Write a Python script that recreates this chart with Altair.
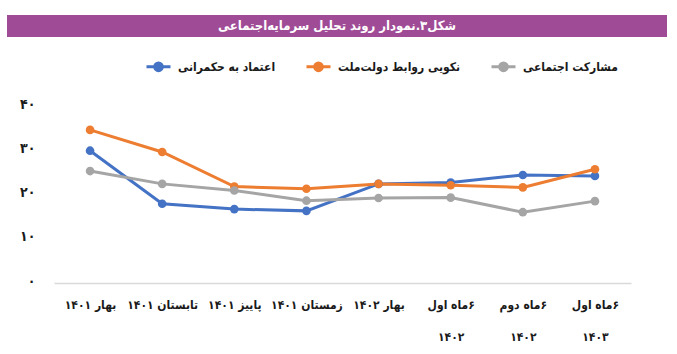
import altair as alt
import pandas as pd

# ---- data ----
categories = [
    "بهار ۱۴۰۱",
    "تابستان ۱۴۰۱",
    "پاییز ۱۴۰۱",
    "زمستان ۱۴۰۱",
    "بهار ۱۴۰۲",
    "۶ماه اول|۱۴۰۲",
    "۶ماه دوم|۱۴۰۲",
    "۶ماه اول|۱۴۰۳",
]
series_names = ["اعتماد به حکمرانی", "نکویی روابط دولت‌ملت", "مشارکت اجتماعی"]
trust = [29.9, 17.9, 16.7, 16.3, 22.4, 22.7, 24.4, 24.2]
relations = [34.6, 29.6, 21.8, 21.3, 22.4, 22.1, 21.6, 25.7]
participation = [25.3, 22.4, 20.9, 18.6, 19.2, 19.3, 16.0, 18.5]
colors = ["#4472C4", "#ED7D31", "#A5A5A5"]
y_ticks = [0, 10, 20, 30, 40]
y_tick_labels = ["۰", "۱۰", "۲۰", "۳۰", "۴۰"]
title_text = "شکل۳.نمودار روند تحلیل سرمایه‌اجتماعی"

rows = []
for name, vals in zip(series_names, [trust, relations, participation]):
    for c, v in zip(categories, vals):
        rows.append({"period": c, "series": name, "value": v})
df = pd.DataFrame(rows)

FONT = "DejaVu Sans Condensed"
LEFT, TOP = 54, 106
W, H = 577, 177
RIGHT = 677 - LEFT - W
BOTTOM = 354 - TOP - H

RLM = "\u200f"
ylab_expr = "[" + ",".join("'" + s + "'" for s in y_tick_labels) + "][datum.value / 10]"

legend_symbol = "M-1,0H1M-0.32,0A0.32,0.32,0,1,1,0.32,0A0.32,0.32,0,1,1,-0.32,0Z"

x_enc = alt.X(
    "period:N",
    sort=categories,
    title=None,
    axis=alt.Axis(
        labelAngle=0,
        labelExpr="split('" + RLM + "' + datum.label, '|')",
        labelFont=FONT,
        labelFontSize=12,
        labelFontWeight="bold",
        labelColor="#1a1a1a",
        labelPadding=16,
        labelLineHeight=32,
        domainColor="#D9D9D9",
        domainWidth=1.5,
        ticks=False,
        grid=False,
    ),
)
y_enc = alt.Y(
    "value:Q",
    title=None,
    scale=alt.Scale(domain=[0, 40], nice=False),
    axis=alt.Axis(
        values=y_ticks,
        labelExpr=ylab_expr,
        labelFont=FONT,
        labelFontSize=14,
        labelFontWeight="bold",
        labelColor="#1a1a1a",
        labelPadding=19,
        labelOffset=-2,
        domain=False,
        ticks=False,
        grid=False,
    ),
)
color_enc = alt.Color(
    "series:N",
    scale=alt.Scale(domain=series_names, range=colors),
    legend=alt.Legend(
        title=None,
        orient="none",
        direction="horizontal",
        legendX=145 - LEFT,
        legendY=53 - TOP,
        labelFont=FONT,
        labelFontSize=12,
        labelFontWeight="bold",
        labelColor="#1a1a1a",
        symbolType=legend_symbol,
        symbolSize=576,
        symbolStrokeWidth=3,
        columnPadding=24,
        labelOffset=6,
    ),
)

base = alt.Chart(df)
lines = base.mark_line(strokeWidth=3).encode(x=x_enc, y=y_enc, color=color_enc)
points = base.mark_point(filled=True, size=75, opacity=1).encode(
    x=x_enc, y=y_enc, color=color_enc
)

title_df = pd.DataFrame({"t": [title_text]})
banner = alt.Chart(title_df).mark_rect(color="#A04B96").encode(
    x=alt.value(7 - LEFT),
    x2=alt.value(667 - LEFT),
    y=alt.value(15 - TOP),
    y2=alt.value(37 - TOP),
)
banner_text = alt.Chart(title_df).mark_text(
    color="white", font=FONT, fontSize=13, fontWeight="bold", align="center", baseline="middle"
).encode(
    text="t:N",
    x=alt.value(337 - LEFT),
    y=alt.value(26 - TOP),
)

chart = (
    alt.layer(banner, banner_text, lines, points)
    .properties(
        width=W,
        height=H,
        autosize=alt.AutoSizeParams(type="none"),
        padding={"left": LEFT, "top": TOP, "right": RIGHT, "bottom": BOTTOM},
        background="white",
    )
    .configure_view(stroke=None)
)

chart.save("out.html", embed_options={"renderer": "svg", "actions": False})
